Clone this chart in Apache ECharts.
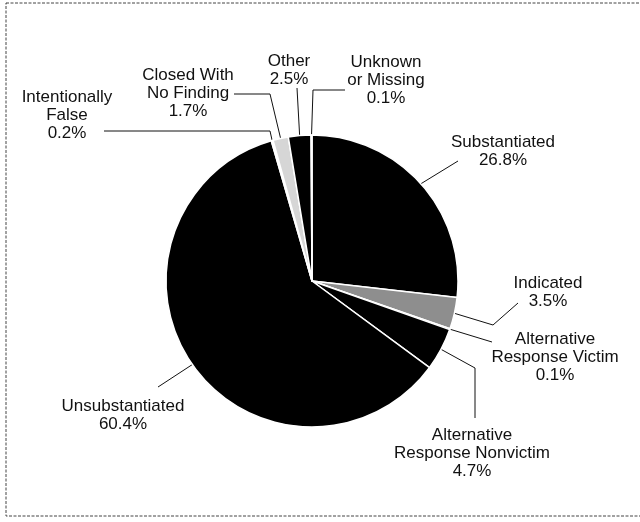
<!DOCTYPE html>
<html>
<head>
<meta charset="utf-8">
<script src="https://cdn.jsdelivr.net/npm/echarts@6/dist/echarts.min.js"></script>
<style>html,body{margin:0;padding:0;background:#fff}#c{width:640px;height:522px}</style>
</head>
<body>
<div id="c"></div>
<script>
// ---- data ----
var categories = ['Substantiated', 'Indicated', 'Alternative Response Victim', 'Alternative Response Nonvictim', 'Unsubstantiated', 'Intentionally False', 'Closed With No Finding', 'Other', 'Unknown or Missing'];
var labelTexts = ['Substantiated', 'Indicated', 'Alternative\nResponse Victim', 'Alternative\nResponse Nonvictim', 'Unsubstantiated', 'Intentionally\nFalse', 'Closed With\nNo Finding', 'Other', 'Unknown\nor Missing'];
var percents = [26.8, 3.5, 0.1, 4.7, 60.4, 0.2, 1.7, 2.5, 0.1];
var sliceColors = ['#000000', '#8e8e8e', '#ffffff', '#000000', '#000000', '#ffffff', '#d6d6d6', '#000000', '#ffffff'];

// ---- label layout (center of label block; leader-line shape) ----
var labelPos = [
  {x: 503, y: 151, line: function (s) { return [s, [458, 161]]; }},
  {x: 548, y: 292, line: function (s) { return [s, [493, 325], [518, 303]]; }},
  {x: 555, y: 357, line: function (s) { return [s, [492, 342]]; }},
  {x: 472, y: 453, line: function (s) { return [s, [475, 368], [475, 418]]; }},
  {x: 123, y: 415, line: function (s) { return [s, [158, 387]]; }},
  {x: 67, y: 115, line: function (s) { return [s, [270, 131], [104, 131]]; }},
  {x: 188, y: 93, line: function (s) { return [s, [270, 94], [234, 94]]; }},
  {x: 289, y: 70, line: function (s) { return [s, [297, 88]]; }},
  {x: 386, y: 80, line: function (s) { return [s, [313, 90], [345, 90]]; }}
];

var chart = echarts.init(document.getElementById('c'), null, {renderer: 'canvas'});
var data = categories.map(function (n, i) {
  return {name: n, value: percents[i], itemStyle: {color: sliceColors[i]}};
});

chart.setOption({
  animation: false,
  backgroundColor: '#ffffff',
  graphic: [{
    type: 'rect', silent: true,
    shape: {x: 6, y: 3, width: 660, height: 513},
    style: {fill: 'none', stroke: '#444', lineWidth: 1, lineDash: [3, 1.5]}
  }],
  series: [{
    type: 'pie',
    silent: true,
    center: [312, 281],
    radius: 146,
    startAngle: 90,
    clockwise: true,
    avoidLabelOverlap: false,
    minShowLabelAngle: 0,
    itemStyle: {borderColor: '#ffffff', borderWidth: 1.5},
    label: {
      show: true,
      position: 'outside',
      fontFamily: 'Liberation Sans, Arial, sans-serif',
      fontSize: 17,
      lineHeight: 18,
      color: '#111',
      formatter: function (p) { return labelTexts[p.dataIndex] + '\n' + p.value.toFixed(1) + '%'; }
    },
    labelLine: {show: true, length: 10, length2: 10, smooth: false, lineStyle: {color: '#111', width: 1}},
    labelLayout: function (p) {
      var cfg = labelPos[p.dataIndex];
      var s = p.labelLinePoints ? p.labelLinePoints[0] : [0, 0];
      return {
        x: cfg.x, y: cfg.y, align: 'center', verticalAlign: 'middle',
        labelLinePoints: cfg.line(s)
      };
    },
    data: data
  }]
});
</script>
</body>
</html>
